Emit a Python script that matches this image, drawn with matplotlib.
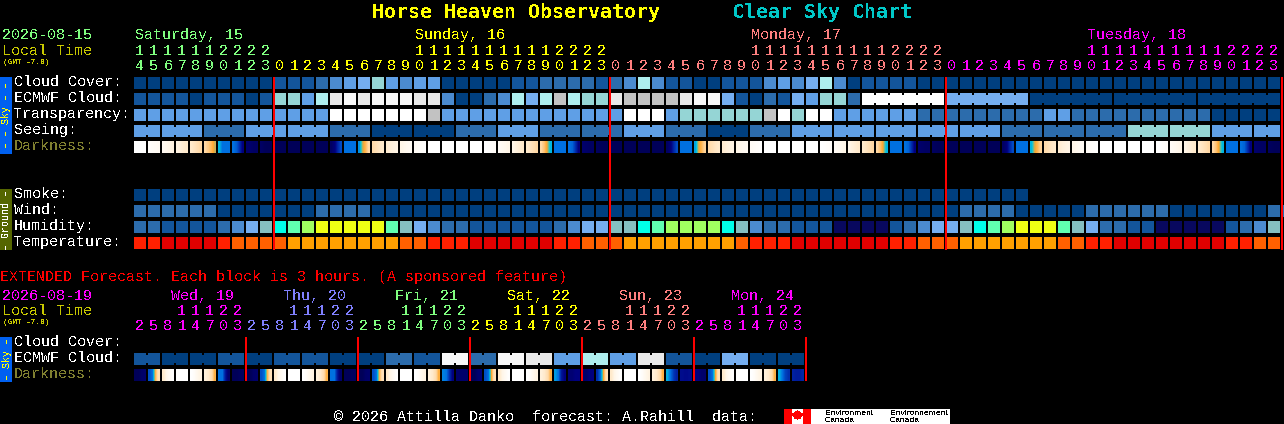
import matplotlib
matplotlib.use('Agg')
import matplotlib.pyplot as plt
from matplotlib.colors import LinearSegmentedColormap

plt.rcParams['font.family'] = ['Liberation Mono', 'DejaVu Sans Mono']
plt.rcParams['text.antialiased'] = False

# rating colours, index = value used in the rows below
palette = ['#003f7f', '#13559b', '#2c6cac', '#4b8bd0', '#5f9fe6', '#75aef0',
           '#95d5d5', '#aeeeee', '#c2c2c2', '#e9e9e9', '#f8f8f8', '#ffffff',
           '#00ffe8', '#60ffb0', '#a0ff60', '#efff14', '#08085e', '#85bfc0',
           '#e00000', '#ff2000', '#ff6000', '#ffa000']
dark_cmap = LinearSegmentedColormap.from_list('dark', [
    '#ffffff', '#fff6e8', '#ffeacc', '#ffd8a4', '#ffa830', '#00c8e0',
    '#0070e0', '#0030b0', '#000080', '#000058'])

# hourly forecast, Sat 14h to Tue 23h
cloud_cover = [0]*10 + [1, 1, 1, 2, 3, 4, 5, 6, 4, 3, 4, 4, 0, 0, 0, 0, 0, 1, 1, 2, 2, 2, 2, 1] \
    + [2, 3, 7, 3, 1, 1, 0, 0, 1, 1, 1, 3, 4, 3, 5, 7, 3, 0, 1, 1, 1, 1, 0, 0] + [0]*24
ecmwf = [1, 1, 1, 1, 0, 1, 1, 1, 0, 1] \
    + [6, 6, 4, 7, 9, 10, 9, 10, 10, 10, 9, 9, 3, 0, 0, 2, 3, 7, 5, 7, 8, 7, 6, 6] \
    + [9, 8, 8, 8, 8, 9, 10, 10, 5, 1, 0, 2, 1, 5, 4, 6, 6, 2] + [11, 5, 0, 0, 0]
ecmwf_runs = [1]*52 + [6]*5
transparency = [4]*14 + [11]*7 + [8] + [4]*13 \
    + [11, 11, 11, 4, 6, 6, 6, 6, 6, 6, 8, 11, 6, 11, 11, 4, 4, 4, 4, 4, 4, 2, 2] \
    + [2]*7 + [4, 4] + [2]*10 + [0]*5
seeing = [4, 4, 2, 4, 4, 2, 0, 0, 2, 4, 2, 2, 4, 2, 0, 2, 4, 4, 4, 4, 4, 2, 2, 2, 6, 6, 4, 4]
seeing_runs = [2] + [3]*26 + [2]
smoke = [0]*64
wind = [2]*6 + [0]*7 + [2]*4 + [0]*42 + [2]*4 + [0]*5 + [2]*6 + [0]*7 + [2]*8 + [0]*2
humidity = [2, 2, 1, 1, 1, 1, 2, 3, 5, 17] \
    + [12, 13, 14, 15, 15, 15, 15, 15, 13, 17, 5, 3, 2, 2, 1, 1, 1, 1, 1, 1, 2, 3, 5, 5] \
    + [17, 17, 12, 13, 14, 14, 14, 14, 12, 17, 3, 2, 2, 1, 1, 1, 16, 16, 16, 16, 1, 2, 3, 5] \
    + [5, 17, 12, 13, 14, 15, 15, 15, 13, 17, 5, 2, 2, 1, 1, 16, 16, 16, 16, 16, 1, 2, 3, 17]
temperature = [19, 19, 18, 18, 18, 18, 19, 20, 20, 20] \
    + [20, 21, 21, 21, 21, 21, 21, 21, 21, 20, 20, 19, 19, 19, 18, 18, 18, 18, 18, 18, 19, 19, 20, 20] \
    + [20, 21, 21, 21, 21, 21, 21, 21, 21, 20, 19, 19, 19, 18, 18, 18, 18, 18, 18, 18, 19, 19, 20, 20] \
    + [20, 21, 21, 21, 21, 21, 21, 21, 20, 20, 19, 19, 18, 18, 18, 18, 18, 18, 18, 18, 19, 19, 20, 20]
# darkness: 4 readings per hour, 0 = daylight, 9 = full dark
darkness = [
    [0, 0, 0, 0], [.2, .3, .4, .5], [.6, .8, 1, 1.2], [1.2, 1.5, 1.8, 2], [2, 2.3, 2.6, 3],
    [3, 3.3, 3.7, 4.2], [5.2, 6, 6, 6], [6, 6.3, 7, 8], [8.5, 8.5, 8.7, 8.7], [8.7, 8.9, 9, 9],
    # sunday
    [9, 9, 9, 9], [9, 9, 9, 9], [9, 9, 9, 9], [9, 9, 9, 9], [8.7, 8.2, 7.3, 6.6], [6, 6, 6, 6],
    [5.6, 4.3, 3.7, 3], [2.8, 2.5, 2.2, 2], [1.8, 1.5, 1.3, 1.1], [1, .8, .6, .5], [.4, .3, .2, .1],
    [0, 0, 0, 0], [0, 0, 0, 0], [0, 0, 0, 0], [0, 0, 0, 0], [0, .1, .2, .3], [.4, .6, .8, 1],
    [1, 1.4, 1.7, 2], [2, 2.3, 2.6, 3], [3, 3.5, 4.2, 5.2], [6, 6, 6, 6], [6, 6.2, 7, 8],
    [8.5, 8.6, 8.7, 8.7], [8.8, 8.9, 9, 9],
    # monday
    [9, 9, 9, 9], [9, 9, 9, 9], [9, 9, 9, 9], [9, 9, 9, 9], [8.7, 8.2, 7.3, 6.6], [6, 6, 6, 6],
    [5.4, 4.2, 3.7, 3.1], [2.8, 2.5, 2.2, 2], [1.8, 1.5, 1.3, 1.1], [1, .8, .6, .5], [.4, .3, .2, .1],
    [0, 0, 0, 0], [0, 0, 0, 0], [0, 0, 0, 0], [0, 0, 0, 0], [0, .1, .2, .3], [.4, .6, .8, 1],
    [1, 1.4, 1.7, 2], [2, 2.3, 2.6, 3], [3, 3.5, 4.2, 5.2], [6, 6, 6, 6], [6, 6.2, 7, 8],
    [8.5, 8.6, 8.7, 8.7], [8.8, 8.9, 9, 9],
    # tuesday
    [9, 9, 9, 9], [9, 9, 9, 9], [9, 9, 9, 9], [9, 9, 9, 9], [8.7, 8.2, 7.3, 6.6], [6, 6, 6, 6],
    [5.2, 4.2, 3.7, 3.1], [2.8, 2.5, 2.2, 2], [1.8, 1.5, 1.3, 1.1], [1, .8, .6, .5], [.4, .3, .2, .1],
    [0, 0, 0, 0], [0, 0, 0, 0], [0, 0, 0, 0], [0, 0, 0, 0], [0, .1, .2, .3], [.4, .6, .8, 1],
    [1, 1.4, 1.7, 2], [2, 2.3, 2.6, 3], [3, 3.5, 4.2, 5.2], [6, 6, 6, 6], [6, 6.2, 7, 8],
    [8.5, 8.6, 8.7, 8.7], [8.8, 8.9, 9, 9],
]
hours = list(range(14, 24)) + list(range(24))*3
hour_colors = ['#80ff80']*10 + ['#ffff00']*24 + ['#ff8080']*24 + ['#ff00ff']*24
day_names = ['Saturday, 15', 'Sunday, 16', 'Monday, 17', 'Tuesday, 18']
day_colors = ['#80ff80', '#ffff00', '#ff8080', '#ff00ff']

# extended forecast, 3 hour blocks
ext_ecmwf = [1, 0, 0, 1, 0, 1, 1, 0, 0, 2, 1, 10, 2, 10, 9, 4, 7, 4, 9, 1, 0, 5, 0, 0]
ext_runs = [2]*24
ext_darkness = [
    [9, 9, 8.6, 8.5], [6.5, 6, 3.8, 2.5], [2, 1, .5, .1], [0, 0, 0, 0],
    [0, .3, .8, 1.2], [1.5, 2, 2.7, 3.8], [6, 6, 7.5, 8.5], [9, 9, 8.8, 8.8],
    [9, 9, 8.6, 8.5], [6.5, 6, 3.8, 2.5], [2, 1, .5, .1], [0, 0, 0, 0],
    [0, .3, .8, 1.2], [1.5, 2, 2.7, 3.8], [6, 6, 7.5, 8.5], [9, 9, 8.8, 8.8],
    [9, 9, 8.6, 8.5], [6.5, 6, 3.8, 2.5], [2, 1, .5, .1], [0, 0, 0, 0],
    [0, .3, .8, 1.2], [1.5, 2, 2.7, 3.8], [5.8, 6, 7, 8], [8.5, 8.5, 8.5, 8.5],
    [9, 9, 8.5, 8.2], [6.5, 6, 4, 2.5], [2, 1, .5, .1], [0, 0, 0, 0],
    [0, .3, .8, 1.2], [1.5, 2, 2.7, 3.8], [5.5, 6, 7.5, 8], [8.3, 8.3, 8, 8],
    [8.5, 8.5, 8, 8], [7, 6, 4, 2.5], [2, 1, .5, .1], [0, 0, 0, 0],
    [0, .3, .8, 1.2], [1.5, 2, 2.7, 3.8], [5.3, 6, 6.8, 7.3], [7.7, 7.8, 7.8, 7.7],
    [8, 8, 8.5, 8.5], [6.5, 6, 4, 2.5], [2, 1, .5, .1], [0, 0, 0, 0],
    [0, .3, .8, 1.2], [1.5, 2, 2.7, 3.8], [5.3, 6, 6.7, 7], [7.3, 7.4, 7.4, 7.2],
]
ext_hours = [2, 5, 8, 11, 14, 17, 20, 23]
ext_days = ['Wed, 19', 'Thu, 20', 'Fri, 21', 'Sat, 22', 'Sun, 23', 'Mon, 24']
ext_colors = ['#ff00ff', '#8080ff', '#80ff80', '#ffff00', '#ff8080', '#ff00ff']

# rough outline of the leaf on the flag
leaf = [(0, 5), (1, 3), (2, 4), (1.6, 1.6), (3, 2.6), (3.4, 1.8), (5, 2), (4.4, .6), (5, 0), (2.6, -2),
        (2.8, -2.8), (.3, -2.4), (.3, -4.4), (-.3, -4.4), (-.3, -2.4), (-2.8, -2.8), (-2.6, -2),
        (-5, 0), (-4.4, .6), (-5, 2), (-3.4, 1.8), (-3, 2.6), (-1.6, 1.6), (-2, 4), (-1, 3), (0, 5)]

fig = plt.figure(figsize=(12.84, 4.24), dpi=100, facecolor='black')
ax = fig.add_axes([0, 0, 1, 1])
ax.set_facecolor('black')
ax.axis('off')

X0 = 134
STEP = 14
CELL = 12


def box(x0, x1, y0, y1, color, **kw):
    ax.bar(x0, y1 - y0, width=x1 - x0, bottom=y0, align='edge', color=color,
           linewidth=0, antialiased=False, **kw)


def txt(x, y, s, color='white', size=10.8, **kw):
    ax.text(x, y, s, color=color, fontsize=size, va='baseline', **kw)


def row(values, y, runs=None):
    if runs is None:
        runs = [1]*len(values)
    col = 0
    for v, n in zip(values, runs):
        for j in range(n):
            x = X0 + (col + j)*STEP
            box(x, x + CELL, y, y + CELL, palette[v])
            if j < n - 1:
                box(x + CELL, x + STEP, y + 2, y + CELL - 2, palette[v])
        col += n


def dark_row(values, y):
    for i, v in enumerate(values):
        x = X0 + i*STEP
        ax.imshow([v], extent=(x, x + CELL, y + CELL, y), cmap=dark_cmap, vmin=0, vmax=9,
                  aspect='auto', interpolation='bilinear', zorder=1)


def label(y, s, color='white'):
    txt(14, y + 9, s, color)


def side(y0, y1, s, bg, fg):
    box(0, 12, y0, y1, bg)
    ax.text(6.5, (y0 + y1)/2, s, color=fg, fontsize=7.2, rotation=90, ha='center', va='center')


# title
title_font = dict(family='DejaVu Sans Mono', fontweight='bold')
txt(372, 18, 'Horse Heaven Observatory', '#ffff00', 14.35, **title_font)
txt(732, 18, 'Clear Sky Chart', '#00c8c8', 14.35, **title_font)

# header
txt(2, 39, '2026-08-15', '#80ff80')
txt(2, 55, 'Local Time', '#c8c800')
txt(3, 64, '(GMT -7.0)', '#c8c800', 5.6, fontweight='bold')
for s, c, x in zip(day_names, day_colors, [135, 415, 751, 1087]):
    txt(x, 39, s, c)
for i, (h, c) in enumerate(zip(hours, hour_colors)):
    x = X0 + i*STEP + 6
    if h >= 10:
        txt(x - 1, 55, str(h // 10), c, ha='center')
    txt(x, 70, str(h % 10), c, ha='center')

# sky block
side(77, 154, '\u2013 \u2013 Sky \u2013 \u2013', '#0060f0', '#ffff00')
label(77, 'Cloud Cover:')
label(93, 'ECMWF Cloud:')
label(109, 'Transparency:')
label(125, 'Seeing:')
label(141, 'Darkness:', '#808030')
row(cloud_cover, 77)
row(ecmwf, 93, ecmwf_runs)
row(transparency, 109)
row(seeing, 125, seeing_runs)
dark_row(darkness, 141)

# ground block
side(189, 250, '\u2013 Ground \u2013', '#556600', '#ffffff')
label(189, 'Smoke:')
label(205, 'Wind:')
label(221, 'Humidity:')
label(237, 'Temperature:')
row(smoke, 189)
row(wind, 205)
row(humidity, 221)
row(temperature, 237)

for x in [274, 610, 946, 1282]:
    box(x - 1, x + 1, 77, 250, '#ff0000', zorder=3)

# extended forecast
txt(0, 281, 'EXTENDED Forecast. Each block is 3 hours. (A sponsored feature)', '#ff0000')
txt(2, 300, '2026-08-19', '#ff00ff')
txt(2, 315, 'Local Time', '#c8c800')
txt(3, 324, '(GMT -7.0)', '#c8c800', 5.6, fontweight='bold')
for d, (s, c) in enumerate(zip(ext_days, ext_colors)):
    txt(171 + d*112, 300, s, c)
    for i, h in enumerate(ext_hours):
        x = X0 + (d*8 + i)*STEP + 6
        if h >= 10:
            txt(x - 1, 315, str(h // 10), c, ha='center')
        txt(x, 330, str(h % 10), c, ha='center')
    box(245 + d*112, 247 + d*112, 337, 381, '#ff0000', zorder=3)

side(337, 382, '\u2013 Sky \u2013', '#0060f0', '#ffff00')
label(337, 'Cloud Cover:')
label(353, 'ECMWF Cloud:')
label(369, 'Darkness:', '#808030')
row(ext_ecmwf, 353, ext_runs)
dark_row(ext_darkness, 369)

# footer
txt(334, 421, '\u00a9 2026 Attilla Danko  forecast: A.Rahill  data:')
box(784, 950, 409, 424, '#ffffff')
box(784, 792, 409, 424, '#ff0000')
box(803, 811, 409, 424, '#ff0000')
ax.fill([797.5 + p[0] for p in leaf], [415.5 - p[1] for p in leaf], color='#ff0000', linewidth=0, antialiased=False)
for x, s in [(825, 'Environment'), (890, 'Environnement')]:
    ax.text(x, 415, s, color='black', fontsize=6.1, family='Liberation Sans', va='baseline')
    ax.text(x, 422, 'Canada', color='black', fontsize=6.1, family='Liberation Sans', va='baseline')

ax.set_xlim(0, 1284)
ax.set_ylim(424, 0)
fig.savefig('out.png', dpi=100, facecolor='black')
